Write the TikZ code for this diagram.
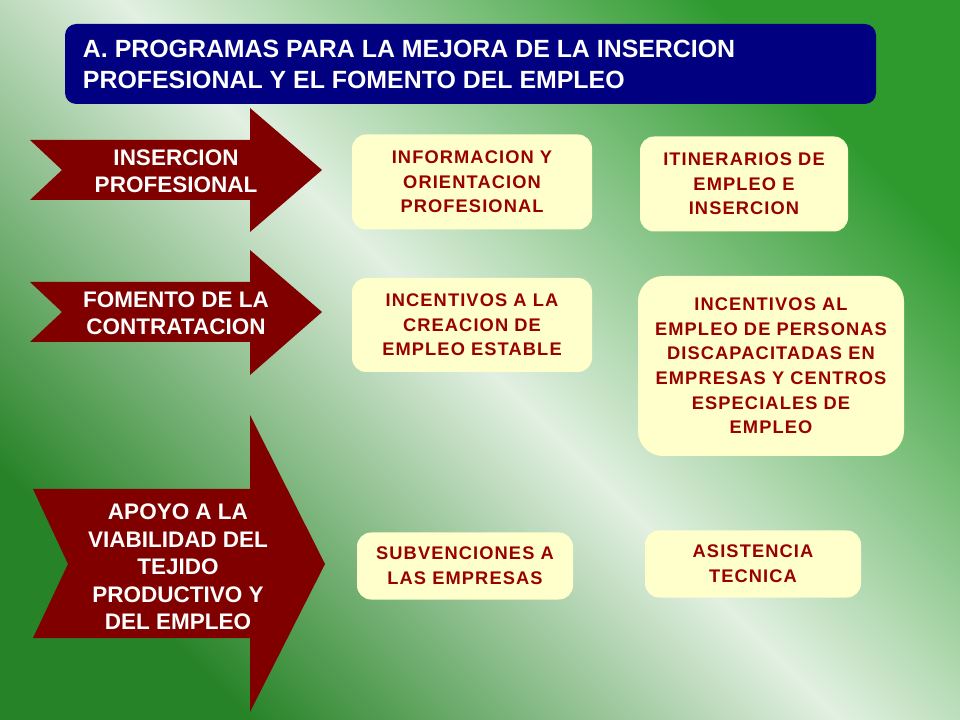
\documentclass[tikz,border=0pt]{standalone}
\usepackage{fontspec}
\setmainfont{Liberation Sans}
\usepackage{tikz}
\usetikzlibrary{positioning}
\definecolor{bgdark}{HTML}{2E9A2E}
\definecolor{bglight}{HTML}{E2F0E2}
\definecolor{titleblue}{HTML}{000080}
\definecolor{arrowred}{HTML}{800000}
\definecolor{boxyellow}{HTML}{FFFFCC}
\definecolor{boxtext}{HTML}{990000}

\tikzset{
  bigarrow/.style={fill=arrowred},
  arrowtext/.style={text=white, font=\bfseries\fontsize{16}{19.5}\selectfont, align=center},
  itembox/.style={fill=boxyellow, rounded corners=10pt, text=boxtext, align=center,
    font=\bfseries\addfontfeature{LetterSpace=6}\fontsize{13}{17.5}\selectfont}
}

\begin{document}
\begin{tikzpicture}[x=0.025cm, y=-0.025cm]
    \useasboundingbox (0, 0) rectangle (960, 720);
    \shade[shading=axis, top color=bgdark!85!black, bottom color=bgdark, middle color=bglight, shading angle=135] (0, 0) rectangle (960, 720);

    % title
    \fill[titleblue, rounded corners=8pt] (65, 24) rectangle (876, 104);
    \node[text=white, font=\bfseries\fontsize{17.7}{22}\selectfont, align=left, anchor=west] (title) at (78, 64)
        {A. PROGRAMAS PARA LA MEJORA DE LA INSERCION\\PROFESIONAL Y EL FOMENTO DEL EMPLEO};

    % arrows
    \fill[bigarrow] (30, 140) -- (250, 140) -- (250, 108) -- (322, 170) -- (250, 232) -- (250, 200) -- (30, 200) -- (62, 170) -- cycle;
    \node[arrowtext] (insercion) at (176, 171) {INSERCION\\PROFESIONAL};
    \fill[bigarrow] (30, 282) -- (250, 282) -- (250, 250) -- (322, 312) -- (250, 375) -- (250, 342) -- (30, 342) -- (62, 312) -- cycle;
    \node[arrowtext] (fomento) at (176, 313) {FOMENTO DE LA\\CONTRATACION};
    \fill[bigarrow] (33, 489) -- (250, 489) -- (250, 415) -- (325, 564) -- (250, 712) -- (250, 638) -- (33, 638) -- (68, 564) -- cycle;
    \node[arrowtext] (apoyo) at (178, 567) {APOYO A LA\\VIABILIDAD DEL\\TEJIDO\\PRODUCTIVO Y\\DEL EMPLEO};

    % boxes
    \node[itembox, minimum width=240*0.025cm, minimum height=95*0.025cm] (informacion) at (472, 182) {INFORMACION Y\\ORIENTACION\\PROFESIONAL};
    \node[itembox, minimum width=208*0.025cm, minimum height=95*0.025cm] (itinerarios) at (744, 184) {ITINERARIOS DE\\EMPLEO E\\INSERCION};
    \node[itembox, minimum width=240*0.025cm, minimum height=94*0.025cm] (creacion) at (472, 325) {INCENTIVOS A LA\\CREACION DE\\EMPLEO ESTABLE};
    \node[itembox, minimum width=266*0.025cm, minimum height=180*0.025cm, rounded corners=18pt] (discapacitadas) at (771, 366)
        {INCENTIVOS AL\\EMPLEO DE PERSONAS\\DISCAPACITADAS EN\\EMPRESAS Y CENTROS\\ESPECIALES DE\\EMPLEO};
    \node[itembox, minimum width=216*0.025cm, minimum height=67*0.025cm] (subvenciones) at (465, 566) {SUBVENCIONES A\\LAS EMPRESAS};
    \node[itembox, minimum width=216*0.025cm, minimum height=67*0.025cm] (asistencia) at (753, 564) {ASISTENCIA\\TECNICA};
\end{tikzpicture}
\end{document}
